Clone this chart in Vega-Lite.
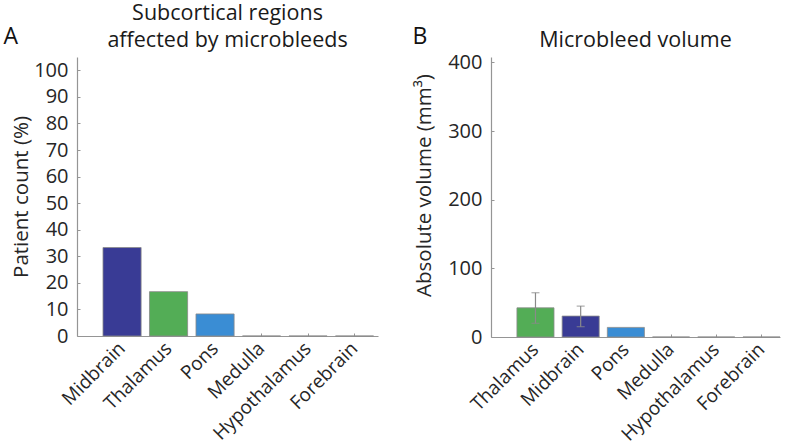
{
  "$schema": "https://vega.github.io/schema/vega-lite/v6.json",
  "padding": {"left": 3, "top": 2, "right": 5, "bottom": 2},
  "config": {
    "font": "Open Sans",
    "view": {"stroke": null},
    "axis": {
      "domainColor": "#959595",
      "domainWidth": 1.2,
      "tickColor": "#959595",
      "tickSize": -3,
      "labelColor": "#262626",
      "titleColor": "#262626",
      "labelFont": "Open Sans",
      "titleFont": "Open Sans",
      "labelFontSize": 19,
      "titleFontSize": 20.5,
      "titleFontWeight": "normal",
      "labelOverlap": false,
      "grid": false
    },
    "title": {"font": "Open Sans", "fontWeight": "normal", "color": "#1a1a1a"}
  },
  "spacing": 113,
  "bounds": "flush",
  "hconcat": [
    {
      "width": 301,
      "height": 279,
      "title": {"text": ["Subcortical regions", "affected by microbleeds"], "frame": "group", "anchor": "middle", "fontSize": 21.5, "lineHeight": 27, "offset": 10, "dy": 36},
      "data": {"values": [
        {"region": "Midbrain", "pct": 33.3},
        {"region": "Thalamus", "pct": 16.7},
        {"region": "Pons", "pct": 8.3},
        {"region": "Medulla", "pct": 0},
        {"region": "Hypothalamus", "pct": 0},
        {"region": "Forebrain", "pct": 0}
      ]},
      "layer": [
        {
          "mark": {"type": "bar", "stroke": "#8a8a8a", "strokeWidth": 0.8},
          "encoding": {
            "x": {"field": "region", "type": "nominal", "sort": null,
              "scale": {"paddingInner": 0.18, "paddingOuter": 0.327, "align": 0.855},
              "axis": {"orient": "bottom", "title": null, "labelAngle": -45, "labelAlign": "right", "labelBaseline": "middle", "labelPadding": 12}},
            "y": {"field": "pct", "type": "quantitative",
              "scale": {"domain": [0, 105], "nice": false},
              "axis": {"values": [0, 10, 20, 30, 40, 50, 60, 70, 80, 90, 100], "tickCount": 11, "labelOverlap": false, "labelFontSize": 20, "title": "Patient count (%)", "labelPadding": 12, "titlePadding": 2}},
            "color": {"field": "region", "type": "nominal",
              "scale": {"domain": ["Midbrain", "Thalamus", "Pons", "Medulla", "Hypothalamus", "Forebrain"], "range": ["#393b95", "#53ad56", "#3a8dd4", "#999999", "#999999", "#999999"]},
              "legend": null}
          }
        },
        {
          "mark": {"type": "bar", "opacity": 0},
          "encoding": {
            "x": {"field": "region", "type": "nominal", "sort": null,
              "axis": {"orient": "top", "labels": false, "ticks": false, "domain": false, "title": "A", "titleAnchor": "start", "titleAlign": "left", "titleBaseline": "alphabetic", "titleAngle": 0, "titleX": -74, "titleY": -14, "titleFontSize": 23, "titleColor": "#111111"}},
            "y": {"field": "pct", "type": "quantitative",
              "axis": {"values": [0, 10, 20, 30, 40, 50, 60, 70, 80, 90, 100], "tickCount": 11, "labelOverlap": false, "labelFontSize": 20, "title": "Patient count (%)", "labelPadding": 12, "titlePadding": 2}}
          }
        }
      ]
    },
    {
      "width": 289,
      "height": 280,
      "title": {"text": "Microbleed volume", "frame": "group", "anchor": "middle", "fontSize": 21.5, "offset": 10, "dy": 36},
      "data": {"values": [
        {"region": "Thalamus", "vol": 42.5, "lo": 20, "hi": 64.5},
        {"region": "Midbrain", "vol": 30.5, "lo": 15, "hi": 45},
        {"region": "Pons", "vol": 14, "lo": null, "hi": null},
        {"region": "Medulla", "vol": 0, "lo": null, "hi": null},
        {"region": "Hypothalamus", "vol": 0, "lo": null, "hi": null},
        {"region": "Forebrain", "vol": 0, "lo": null, "hi": null}
      ]},
      "layer": [
        {
          "mark": {"type": "bar", "stroke": "#8a8a8a", "strokeWidth": 0.8},
          "encoding": {
            "x": {"field": "region", "type": "nominal", "sort": null,
              "scale": {"paddingInner": 0.18, "paddingOuter": 0.287, "align": 1},
              "axis": {"orient": "bottom", "title": null, "labelAngle": -45, "labelAlign": "right", "labelBaseline": "middle", "labelPadding": 12}},
            "y": {"field": "vol", "type": "quantitative",
              "scale": {"domain": [0, 408], "nice": false},
              "axis": {"values": [0, 100, 200, 300, 400], "labelOverlap": false, "labelFontSize": 20, "title": "Absolute volume (mm³)", "labelPadding": 12, "titlePadding": 13, "titleY": 128}},
            "color": {"field": "region", "type": "nominal",
              "scale": {"domain": ["Midbrain", "Thalamus", "Pons", "Medulla", "Hypothalamus", "Forebrain"], "range": ["#393b95", "#53ad56", "#3a8dd4", "#999999", "#999999", "#999999"]},
              "legend": null}
          }
        },
        {
          "mark": {"type": "rule", "color": "#8a8a8a", "strokeWidth": 1.2},
          "encoding": {
            "x": {"field": "region", "type": "nominal", "sort": null,
              "axis": {"orient": "top", "labels": false, "ticks": false, "domain": false, "title": "B", "titleAnchor": "start", "titleAlign": "left", "titleBaseline": "alphabetic", "titleAngle": 0, "titleX": -79, "titleY": -14, "titleFontSize": 23, "titleColor": "#111111"}},
            "y": {"field": "lo", "type": "quantitative"},
            "y2": {"field": "hi"}
          }
        },
        {
          "mark": {"type": "tick", "color": "#8a8a8a", "size": 8, "thickness": 1.2},
          "encoding": {
            "x": {"field": "region", "type": "nominal", "sort": null, "axis": null},
            "y": {"field": "lo", "type": "quantitative"}
          }
        },
        {
          "mark": {"type": "tick", "color": "#8a8a8a", "size": 8, "thickness": 1.2},
          "encoding": {
            "x": {"field": "region", "type": "nominal", "sort": null, "axis": null},
            "y": {"field": "hi", "type": "quantitative"}
          }
        }
      ]
    }
  ]
}
